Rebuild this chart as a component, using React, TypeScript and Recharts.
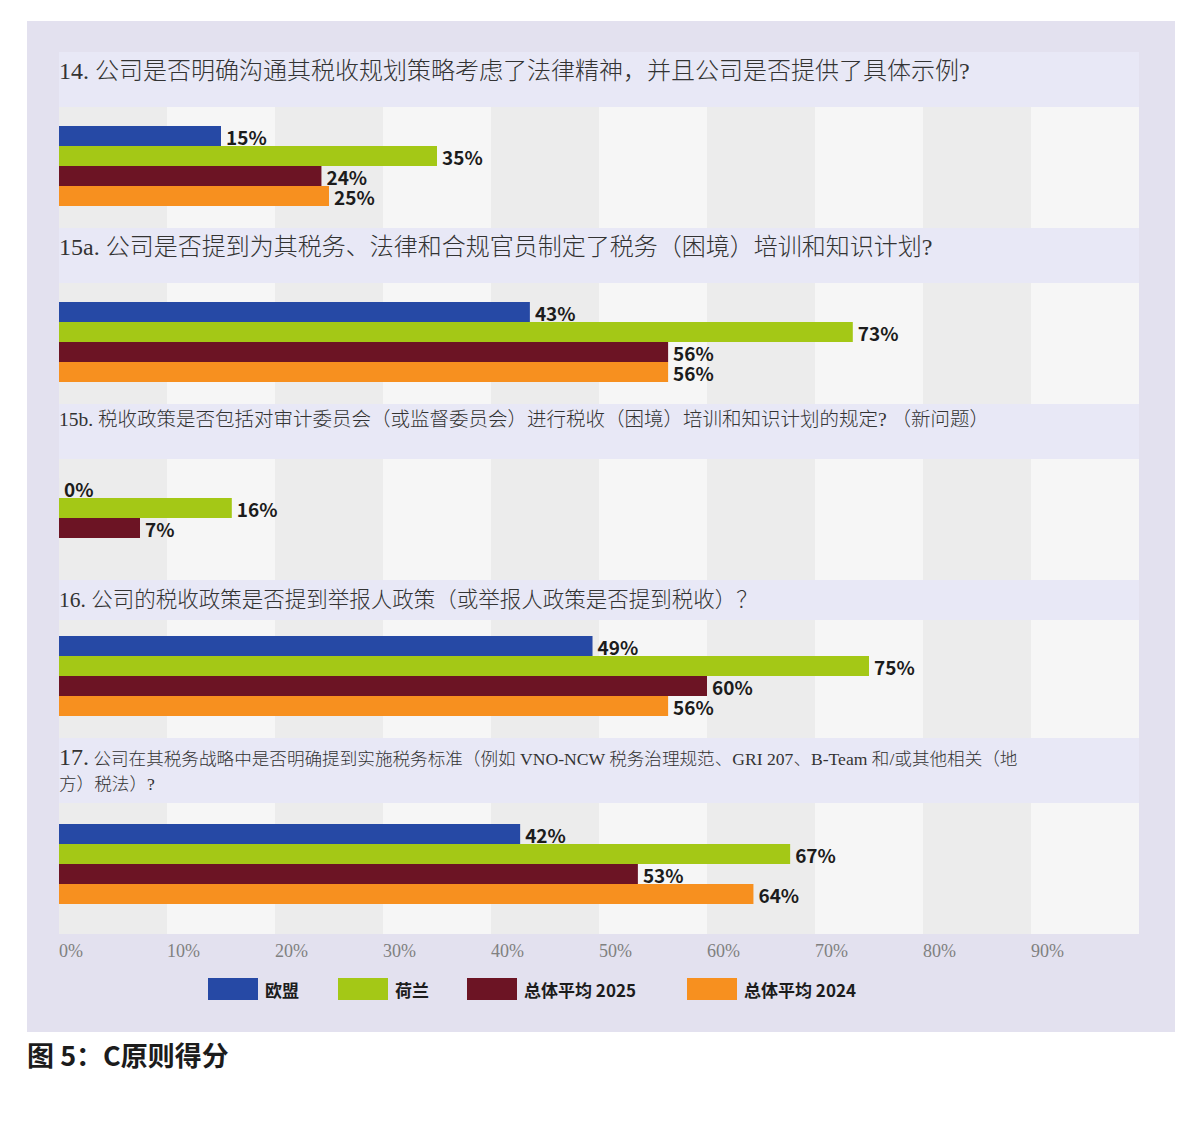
import React from "react";
import { BarChart, Bar, XAxis, YAxis, CartesianGrid, LabelList } from "recharts";

// values (percent); labels show the whole part
const questionIds = ["14", "15a", "15b", "16", "17"];
const euValues = [15, 43.6, 0, 49.4, 42.7];
const nlValues = [35, 73.5, 16, 75, 67.7];
const avg2025Values = [24.3, 56.4, 7.5, 60, 53.6];
const avg2024Values = [25, 56.4, null, 56.4, 64.3];
const tickValues = [0, 10, 20, 30, 40, 50, 60, 70, 80, 90];
const seriesNames = ["欧盟", "荷兰", "总体平均 2025", "总体平均 2024"];
const seriesKeys = ["eu", "nl", "avg2025", "avg2024"];

const colors = ["#2649a5", "#a4c816", "#6c1424", "#f7901f"];
const SANS = '"Noto Sans CJK SC", "Noto Sans", sans-serif';
const SERIF = '"Liberation Serif", "DejaVu Serif", "Noto Sans CJK SC", serif';
const PLOT_W = 1080;

// header band + stripe sizes per question
const headerHeights = [55, 55, 55, 40, 65];
const headerPadTop = [5, 5, 4, 8, 7];
const stripeHeights = [121, 121, 121, 118, 131];
const barTops = [19, 19, 19, 16, 21];

const renderValueLabel = (props: any) => {
  const { value } = props;
  if (value === null || value === undefined) return null;
  const vb = props.viewBox || props;
  const x = Number(vb.x) + Math.max(0, Number(vb.width)) + 5;
  const y = Number(vb.y) + Number(vb.height) - 1;
  return (
    <text
      x={x}
      y={y}
      fill="#1c1c1c"
      fontSize={19}
      fontWeight={700}
      fontFamily={SANS}
    >
      {Math.floor(Number(value))}%
    </text>
  );
};

function QuestionHeader({ index }: { index: number }) {
  const base: React.CSSProperties = {
    height: headerHeights[index],
    boxSizing: "border-box",
    paddingTop: headerPadTop[index],
    background: "#e8e8f6",
    color: "#333",
    fontFamily: SERIF,
    fontWeight: 300,
    whiteSpace: "nowrap",
  };
  if (index === 0)
    return (
      <div style={{ ...base, fontSize: 24, lineHeight: "29px" }}>
        14. 公司是否明确沟通其税收规划策略考虑了法律精神，并且公司是否提供了具体示例?
      </div>
    );
  if (index === 1)
    return (
      <div style={{ ...base, fontSize: 24, lineHeight: "29px" }}>
        15a. 公司是否提到为其税务、法律和合规官员制定了税务（困境）培训和知识计划?
      </div>
    );
  if (index === 2)
    return (
      <div style={{ ...base, fontSize: 19.5, lineHeight: "23px" }}>
        15b. 税收政策是否包括对审计委员会（或监督委员会）进行税收（困境）培训和知识计划的规定? （新问题）
      </div>
    );
  if (index === 3)
    return (
      <div style={{ ...base, fontSize: 21.5, lineHeight: "25px" }}>
        16. 公司的税收政策是否提到举报人政策（或举报人政策是否提到税收）？
      </div>
    );
  return (
    <div style={{ ...base, fontSize: 17.6, lineHeight: "25px" }}>
      <span style={{ fontSize: 24 }}>17.</span> 公司在其税务战略中是否明确提到实施税务标准（例如 VNO-NCW 税务治理规范、GRI 207、B-Team 和/或其他相关（地
      <br />
      方）税法）?
    </div>
  );
}

function QuestionChart({ index, showAxis }: { index: number; showAxis: boolean }) {
  const row = [
    {
      q: questionIds[index],
      eu: euValues[index],
      nl: nlValues[index],
      avg2025: avg2025Values[index],
      avg2024: avg2024Values[index],
    },
  ];
  const h = stripeHeights[index];
  const axisH = showAxis ? 34 : 0;
  const padBottom = h - 80 - 2 * barTops[index];
  return (
    <BarChart
      layout="vertical"
      width={PLOT_W}
      height={h + axisH}
      data={row}
      margin={{ top: 0, right: 0, bottom: 0, left: 0 }}
      barGap={0}
      barSize={20}
    >
      <CartesianGrid
        horizontal={false}
        vertical
        stroke="none"
        verticalFill={["#ececec", "#f6f6f6"]}
      />
      <XAxis
        type="number"
        domain={[0, 100]}
        ticks={tickValues}
        interval={0}
        hide={!showAxis}
        height={axisH}
        axisLine={false}
        tickLine={false}
        tickSize={0}
        tickMargin={10}
        tickFormatter={(v: number) => `${v}%`}
        tick={{ fill: "#808080", fontSize: 18, fontFamily: SERIF, textAnchor: "start" }}
      />
      <YAxis type="category" dataKey="q" hide padding={{ top: 0, bottom: padBottom }} />
      {seriesKeys.map((k, i) => (
        <Bar
          key={k}
          dataKey={k}
          name={seriesNames[i]}
          fill={colors[i]}
          minPointSize={0.01}
          isAnimationActive={false}
        >
          <LabelList dataKey={k} content={renderValueLabel} />
        </Bar>
      ))}
    </BarChart>
  );
}

const legendLefts = [149, 279, 408, 628];

export default function App() {
  return (
    <div style={{ padding: "13px 0 0 19px" }}>
      <div
        style={{
          width: 1148,
          height: 1011,
          boxSizing: "border-box",
          background: "#e3e1ef",
          padding: "31px 36px 0 32px",
        }}
      >
        {questionIds.map((q, i) => (
          <div key={q}>
            <QuestionHeader index={i} />
            <QuestionChart index={i} showAxis={i === questionIds.length - 1} />
          </div>
        ))}
        <div style={{ position: "relative", height: 22, marginTop: 10 }}>
          {seriesNames.map((name, i) => (
            <div
              key={name}
              style={{
                position: "absolute",
                left: legendLefts[i],
                top: 0,
                display: "flex",
                alignItems: "center",
                height: 22,
              }}
            >
              <div style={{ width: 50, height: 22, background: colors[i] }} />
              <span
                style={{
                  marginLeft: 7,
                  fontFamily: SANS,
                  fontWeight: 700,
                  fontSize: 17,
                  color: "#1c1c1c",
                  whiteSpace: "nowrap",
                }}
              >
                {name}
              </span>
            </div>
          ))}
        </div>
      </div>
      <div
        style={{
          marginTop: 6,
          fontFamily: SANS,
          fontWeight: 700,
          fontSize: 27,
          lineHeight: "34px",
          color: "#1c1c1c",
        }}
      >
        图 5：C原则得分
      </div>
    </div>
  );
}
